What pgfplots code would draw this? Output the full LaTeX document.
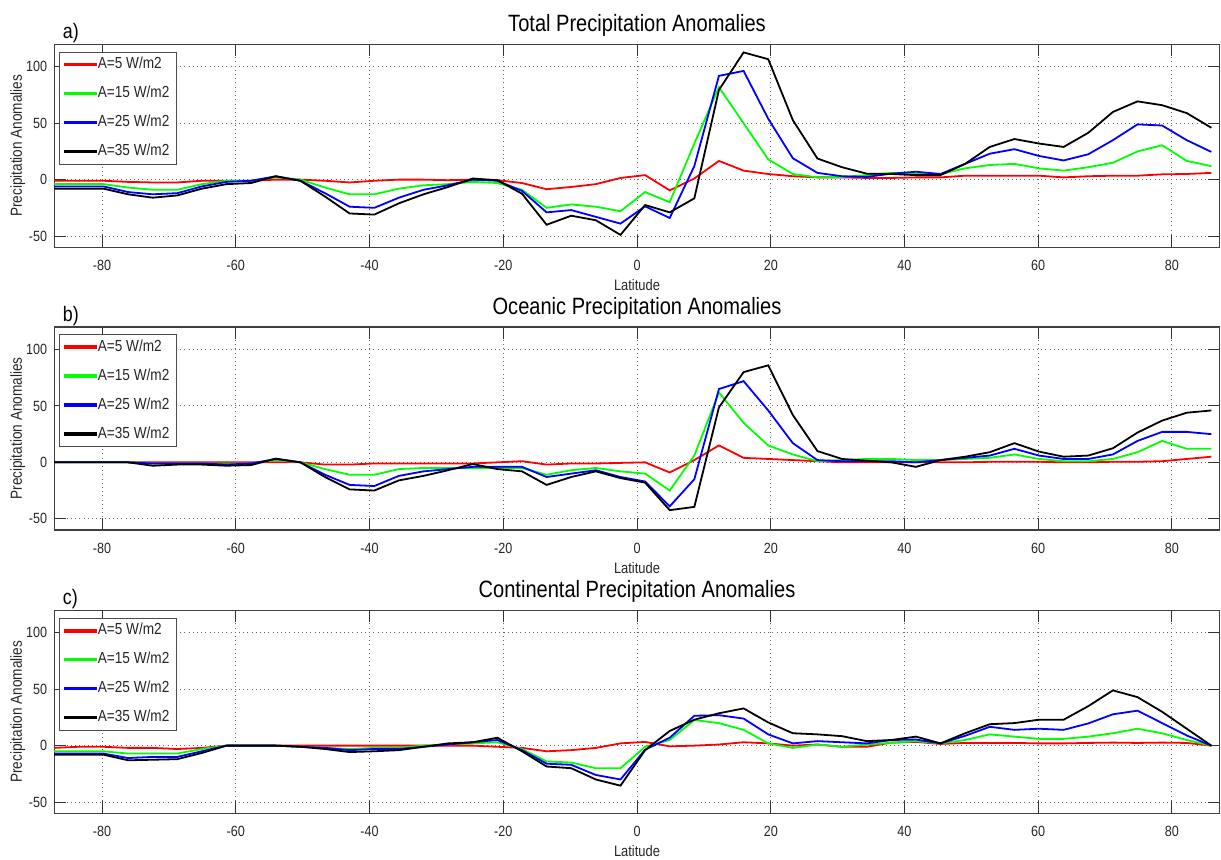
\documentclass[border=0pt]{standalone}
\usepackage{fontspec}
\setmainfont{Liberation Sans}[FakeStretch=0.85]
\usepackage{pgfplots}
\usepackage{pgfplotstable}
\pgfplotsset{compat=1.18}
\definecolor{mred}{rgb}{1,0,0}
\definecolor{mgreen}{rgb}{0,1,0}
\definecolor{mblue}{rgb}{0,0,1}

\pgfplotstableread{
lat r g b k
-87.16 -1 -4 -6 -8
-83.48 -1 -4 -6 -8
-79.80 -1 -4 -6 -8
-76.11 -2 -7 -11 -13
-72.43 -2.5 -9 -13 -16
-68.75 -2.5 -9 -12 -14
-65.07 -1 -4 -6 -8
-61.39 -1 -1 -2 -4
-57.70 -1 -1 -1 -3
-54.02 0 2 3 3
-50.34 0 0 -1 -1
-46.66 -1 -7 -12 -15
-42.98 -2.5 -13 -24 -30
-39.29 -1 -13 -25 -31
-35.61 0 -8 -16 -21
-31.93 0 -5 -9 -13
-28.25 -0.5 -4 -5 -6.5
-24.57 0 -2 0 1
-20.88 -0.5 -3 -1 -0.5
-17.20 -3 -9 -10 -12.5
-13.52 -8.5 -25 -29 -40
-9.84 -6.5 -22 -27 -32
-6.16 -4 -24 -33 -36
-2.47 1.5 -28 -39 -49
1.21 4 -11 -23.7 -22.5
4.89 -9.5 -20 -34 -29
8.57 1 32 12 -16.6
12.25 16.6 82 92 79.5
15.94 8 50 96.4 112.8
19.62 5 18 54 106.8
23.30 3 5 19 52.8
26.98 2 2 6 18.7
30.66 2 2.4 3 11
34.35 1.5 4 2.4 5.3
38.03 1.5 6 5.3 5
41.71 2 5 7 4
45.39 2 5 5 4
49.07 3.5 10 14 14
52.76 3.5 13 23 29
56.44 3.5 14 27 36
60.12 3.5 10 21 32
63.80 2 8 17 29
67.48 3 11 22.5 41.5
71.17 3.5 15 35 60
74.85 3.5 25 49 69.4
78.53 4.7 30.5 48 66
82.21 5 16.6 35 59
85.89 6 12 24.6 46
}\dataA

\pgfplotstableread{
lat r g b k
-87.16 0 0 0 0
-83.48 0 0 0 0
-79.80 0 0 0 0
-76.11 0 0 0 0
-72.43 0 -1 -1 -3
-68.75 0 -1 -1 -2
-65.07 0 -1 -1 -2
-61.39 0 -1 -2 -3
-57.70 0 -1 -1 -2.4
-54.02 0 2 3 3.3
-50.34 0 0 0 0
-46.66 -2 -6 -11 -13
-42.98 -2 -11 -20 -24
-39.29 -1 -11 -21 -25
-35.61 -1 -6 -12 -16
-31.93 -1 -5 -8 -12
-28.25 -1 -5 -6 -7
-24.57 -1 -5 -4 -1.5
-20.88 0 -5 -4 -6
-17.20 1 -5 -4 -8
-13.52 -2 -11 -13 -20
-9.84 -1 -7 -10 -13
-6.16 -1 -5 -7 -8
-2.47 -0.5 -8 -13 -14
1.21 0 -10 -17 -18
4.89 -9 -25 -39 -42.4
8.57 2 6 -15 -39.5
12.25 15 62 65 48.7
15.94 4 35 72 80
19.62 3 15 46 86
23.30 2 7 17 42
26.98 1 1 2 10
30.66 0 2 1 3
34.35 0 3 1 1.5
38.03 0 3 1 0
41.71 0 2 0 -4
45.39 0 2 2 2
49.07 0 3 4 5
52.76 0.5 4 6 9
56.44 0.5 7 12 17
60.12 0.5 3 6 9.5
63.80 0 1 3 5
67.48 0 1 3 6
71.17 0.5 3 7 12.5
74.85 0.5 9 19 26.4
78.53 1 19 27 37
82.21 3 12 27 44
85.89 5 12 25 46
}\dataB

\pgfplotstableread{
lat r g b k
-87.16 -2 -5 -7 -8
-83.48 -1 -5 -7 -8
-79.80 -1 -5 -7 -8
-76.11 -2 -7 -11 -13
-72.43 -2 -7 -10 -12.5
-68.75 -3 -7 -10 -12
-65.07 -2 -3 -5 -6.5
-61.39 0 0 0 0
-57.70 0 0 0 0
-54.02 0 0 0 0
-50.34 0 -1 -1 -1
-46.66 0 -2 -2 -3
-42.98 0 -3 -4 -5.7
-39.29 0 -2 -3 -5
-35.61 0 -2 -3 -4
-31.93 0 0 -1 -1
-28.25 0 1 1 2
-24.57 0 2 3 3
-20.88 -1 3 5 7
-17.20 -2 -3 -4 -5
-13.52 -5 -14 -16 -18.5
-9.84 -4 -15 -17 -20
-6.16 -2 -20 -26 -30
-2.47 2 -20 -30 -35.5
1.21 3.3 -1 -3.6 -4
4.89 -0.6 5 7 13
8.57 0 22.7 26.5 23
12.25 1 20 27 28.7
15.94 3 14 24 33
19.62 2 2 10 20.6
23.30 0 -2 2 11
26.98 1 1 4 10
30.66 -1 -1 3 8.4
34.35 -1 1 2 4
38.03 2.7 2.4 5 5
41.71 3.3 4 5.4 8
45.39 1.5 2 2 2
49.07 2.4 5 8.7 11
52.76 2.4 10 16.7 19
56.44 2.4 8 14 20
60.12 2 6 15 23
63.80 2 6 14 23
67.48 2.4 8 19.7 35
71.17 2.7 11 27.8 49
74.85 2.4 15 31 43
78.53 2.7 11 20 30
82.21 2.4 5 9 15
85.89 0 0 0 0
}\dataC

\pgfplotsset{
  panel/.style={
    scale only axis, width=582.8pt, height=101.5pt,
    xmin=-87.16, xmax=87.16, ymin=-60, ymax=120,
    xtick={-80,-60,-40,-20,0,20,40,60,80},
    xticklabels={-80,-60,-40,-20,0,20,40,60,80},
    ytick={-50,0,50,100}, yticklabels={-50,0,50,100},
    tick align=inside, major tick length=6pt,
    every tick/.style={black!80, line width=0.5pt},
    grid=major,
    major grid style={black!60, line width=0.5pt, dash pattern=on 0.5pt off 1.6pt},
    axis line style={black!75, line width=0.6pt},
    ticklabel style={font=\fontsize{7.4}{8}\selectfont, text=black!85},
    xticklabel style={yshift=-3pt},
    xlabel={Latitude},
    xlabel style={font=\fontsize{7.6}{8}\selectfont, text=black!85, at={(axis description cs:0.5,0)}, anchor=base, yshift=-21.5pt},
    ylabel={Precipitation Anomalies},
    ylabel style={font=\fontsize{8}{9}\selectfont, text=black!85, at={(axis description cs:-0.0313,0.5)}, anchor=center},
    title style={font=\fontsize{11.8}{13}\selectfont, at={(axis description cs:0.5,1)}, anchor=base, yshift=0.5pt},
    legend style={at={(0,1)}, anchor=north west, xshift=2.2pt, yshift=-3.7pt,
      draw=black!70, fill=white,
      font=\fontsize{8}{9}\selectfont, text=black!85,
      inner xsep=2.7pt, inner ysep=2pt, row sep=6pt,
      cells={anchor=west}, nodes={inner sep=0.6pt}},
    legend image code/.code={\fill[#1] (0pt,-0.5pt) rectangle (15.25pt,0.5pt);},
  },
  pr/.style={color=mred, line width=0.9pt},
  pg/.style={color=mgreen, line width=0.9pt},
  pb/.style={color=mblue, line width=0.9pt},
  pk/.style={color=black, line width=0.9pt},
}

\begin{document}
\begin{tikzpicture}
\useasboundingbox (0,0) rectangle (610.5pt,429.5pt);

\begin{axis}[panel, name=PA, at={(27.1pt,305.85pt)}, anchor=south west,
  title={Total Precipitation Anomalies}]
\addplot[pr] table[x=lat,y=r] {\dataA};
\addlegendentry{A=5 W/m2}
\addplot[pg] table[x=lat,y=g] {\dataA};
\addlegendentry{A=15 W/m2}
\addplot[pb] table[x=lat,y=b] {\dataA};
\addlegendentry{A=25 W/m2}
\addplot[pk] table[x=lat,y=k] {\dataA};
\addlegendentry{A=35 W/m2}
\end{axis}
\node[anchor=base west, font=\fontsize{10.5}{12}\selectfont] at ([xshift=0.8pt,yshift=3pt]PA.north west) {a)};

\begin{axis}[panel, name=PB, at={(27.1pt,164.5pt)}, anchor=south west,
  title={Oceanic Precipitation Anomalies}]
\addplot[pr] table[x=lat,y=r] {\dataB};
\addlegendentry{A=5 W/m2}
\addplot[pg] table[x=lat,y=g] {\dataB};
\addlegendentry{A=15 W/m2}
\addplot[pb] table[x=lat,y=b] {\dataB};
\addlegendentry{A=25 W/m2}
\addplot[pk] table[x=lat,y=k] {\dataB};
\addlegendentry{A=35 W/m2}
\end{axis}
\node[anchor=base west, font=\fontsize{10.5}{12}\selectfont] at ([xshift=0.8pt,yshift=3pt]PB.north west) {b)};

\begin{axis}[panel, name=PC, at={(27.1pt,22.85pt)}, anchor=south west,
  title={Continental Precipitation Anomalies}]
\addplot[pr] table[x=lat,y=r] {\dataC};
\addlegendentry{A=5 W/m2}
\addplot[pg] table[x=lat,y=g] {\dataC};
\addlegendentry{A=15 W/m2}
\addplot[pb] table[x=lat,y=b] {\dataC};
\addlegendentry{A=25 W/m2}
\addplot[pk] table[x=lat,y=k] {\dataC};
\addlegendentry{A=35 W/m2}
\end{axis}
\node[anchor=base west, font=\fontsize{10.5}{12}\selectfont] at ([xshift=0.8pt,yshift=3pt]PC.north west) {c)};

\end{tikzpicture}
\end{document}
